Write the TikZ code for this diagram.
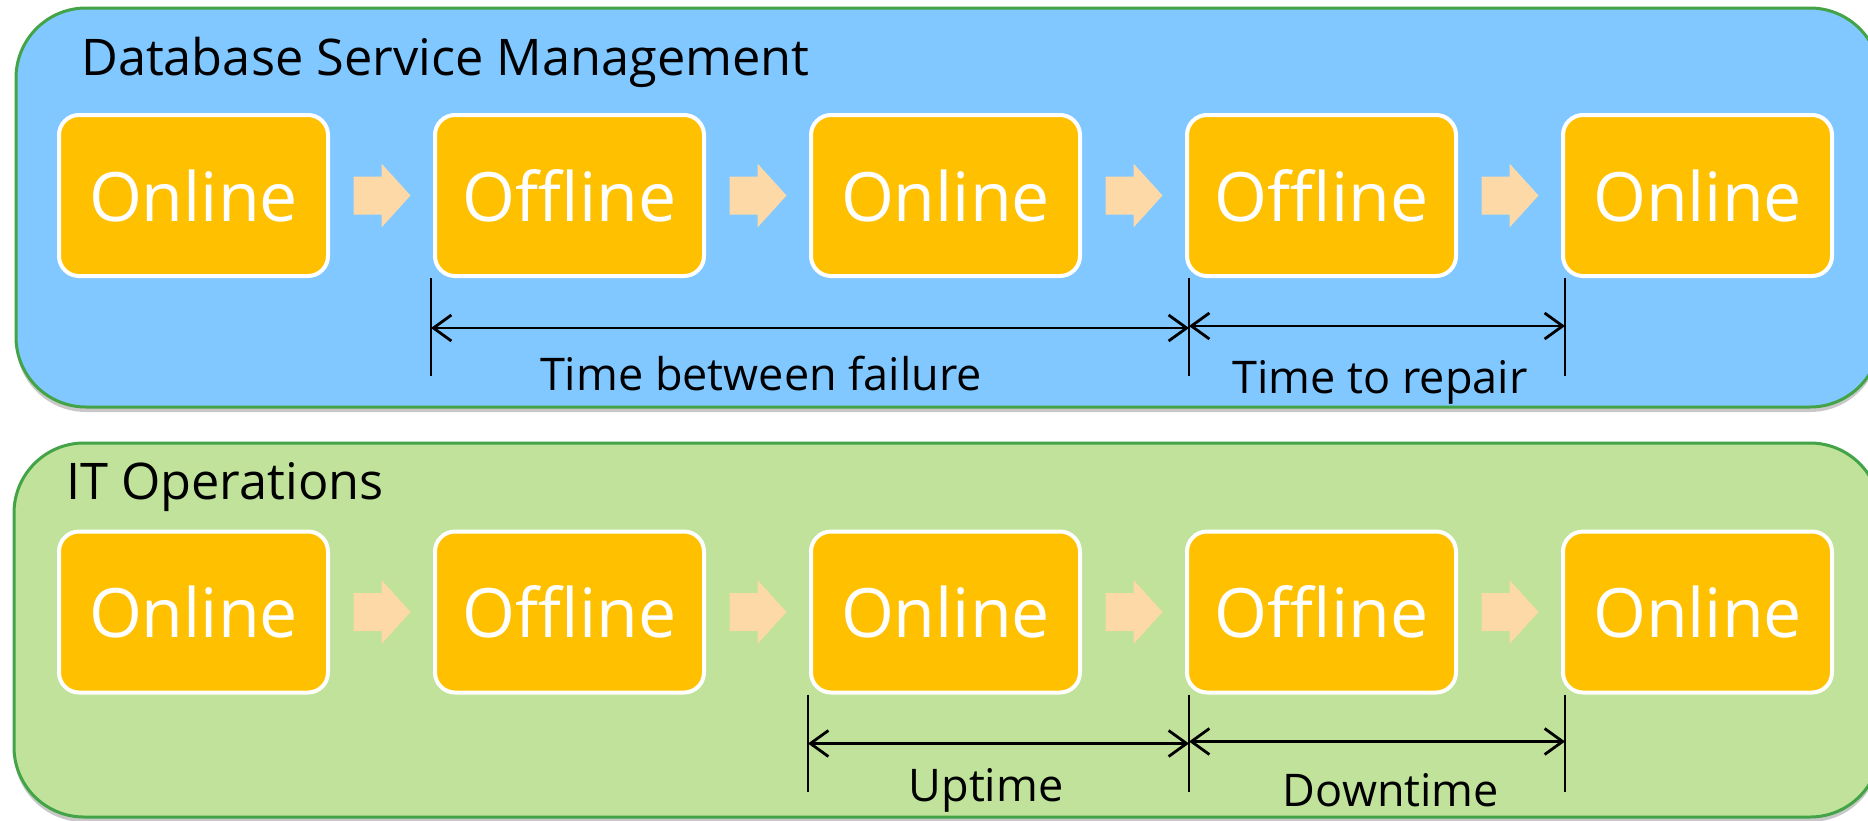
\documentclass[tikz,border=0pt]{standalone}
\usepackage{fontspec}
\setmainfont{Open Sans}
\usetikzlibrary{arrows.meta,shadows,calc}
\definecolor{panelblue}{HTML}{80C8FF}
\definecolor{panelgreen}{HTML}{C0E29A}
\definecolor{panelborder}{HTML}{43A447}
\definecolor{stateorange}{HTML}{FFC000}
\definecolor{flowarrow}{HTML}{FDD9A8}
\begin{document}
\begin{tikzpicture}[x=1pt,y=-1pt,
  panel/.style={draw=panelborder, line width=3pt, rounded corners=70pt,
    drop shadow={shadow xshift=0pt,shadow yshift=-5pt,opacity=0.3,fill=black!70}},
  statebox/.style={draw=white, line width=4pt, fill=stateorange, rounded corners=20pt,
    minimum width=269pt, minimum height=161pt, text=white, inner sep=0pt,
    font=\fontsize{68}{82}\selectfont},
  paneltitle/.style={anchor=base west, inner sep=0pt, font=\fontsize{50.5}{60}\selectfont},
  dimlabel/.style={anchor=base, inner sep=0pt, font=\fontsize{45}{54}\selectfont},
  dimtick/.style={draw=black, line width=2.8pt},
  dimarrow/.style={draw=black, line width=2.8pt, {Straight Barb[length=18pt,width=26pt]}-{Straight Barb[length=18pt,width=26pt]}},
  flow/.style={fill=flowarrow, draw=none}
]
\useasboundingbox (0,0) rectangle (1868,820);
\fill[white] (0,0) rectangle (1868,820);
% panels
\path[panel, fill=panelblue] (16,8) rectangle (1880,407);
\path[panel, fill=panelgreen] (14,443) rectangle (1880,817);
\node[paneltitle] (t1) at (81,75) {Database Service Management};
\node[paneltitle] (t2) at (66,499) {IT Operations};
% state boxes
\foreach \i/\lab in {1/Online,2/Offline,3/Online,4/Offline,5/Online}{
  \node[statebox] (a\i) at ({193.5+376*(\i-1)},195.5) {\lab};
  \node[statebox] (b\i) at ({193.5+376*(\i-1)},612) {\lab};
}
% flow arrows
\foreach \r in {a,b}{
  \foreach \i [evaluate=\i as \j using int(\i+1)] in {1,2,3,4}{
    \coordinate (\r m\i) at ($(\r\i.east)!0.5!(\r\j.west)$);
    \fill[flow] ($(\r m\i)+(-28,-19)$) -- ($(\r m\i)+(0,-19)$) -- ($(\r m\i)+(0,-32)$)
      -- ($(\r m\i)+(29,0)$) -- ($(\r m\i)+(0,32)$) -- ($(\r m\i)+(0,19)$)
      -- ($(\r m\i)+(-28,19)$) -- cycle;
  }
}
% dimension lines top
\coordinate (p2) at ($(a2.south west)+(-2,0)$);
\coordinate (p4) at ($(a4.south west)+(4,0)$);
\coordinate (p5) at ($(a5.south west)+(4,0)$);
\foreach \k in {2,4,5}{
  \draw[dimtick] (p\k) -- ++(0,98);
}
\draw[dimarrow] ($(p2)+(0,50)$) -- ($(p4)+(0,50)$);
\draw[dimarrow] ($(p4)+(0,48)$) -- ($(p5)+(0,48)$);
\node[dimlabel] (l1) at (761,390) {Time between failure};
\node[dimlabel] (l2) at (1380,393) {Time to repair};
% dimension lines bottom
\coordinate (q3) at ($(b3.south west)+(-1,0)$);
\coordinate (q4) at ($(b4.south west)+(4,0)$);
\coordinate (q5) at ($(b5.south west)+(4,0)$);
\foreach \k in {3,4,5}{
  \draw[dimtick] (q\k) -- ++(0,97);
}
\draw[dimarrow] ($(q3)+(0,49)$) -- ($(q4)+(0,49)$);
\draw[dimarrow] ($(q4)+(0,47)$) -- ($(q5)+(0,47)$);
\node[dimlabel] (l3) at (986,801) {Uptime};
\node[dimlabel] (l4) at (1391,806) {Downtime};
\end{tikzpicture}
\end{document}
